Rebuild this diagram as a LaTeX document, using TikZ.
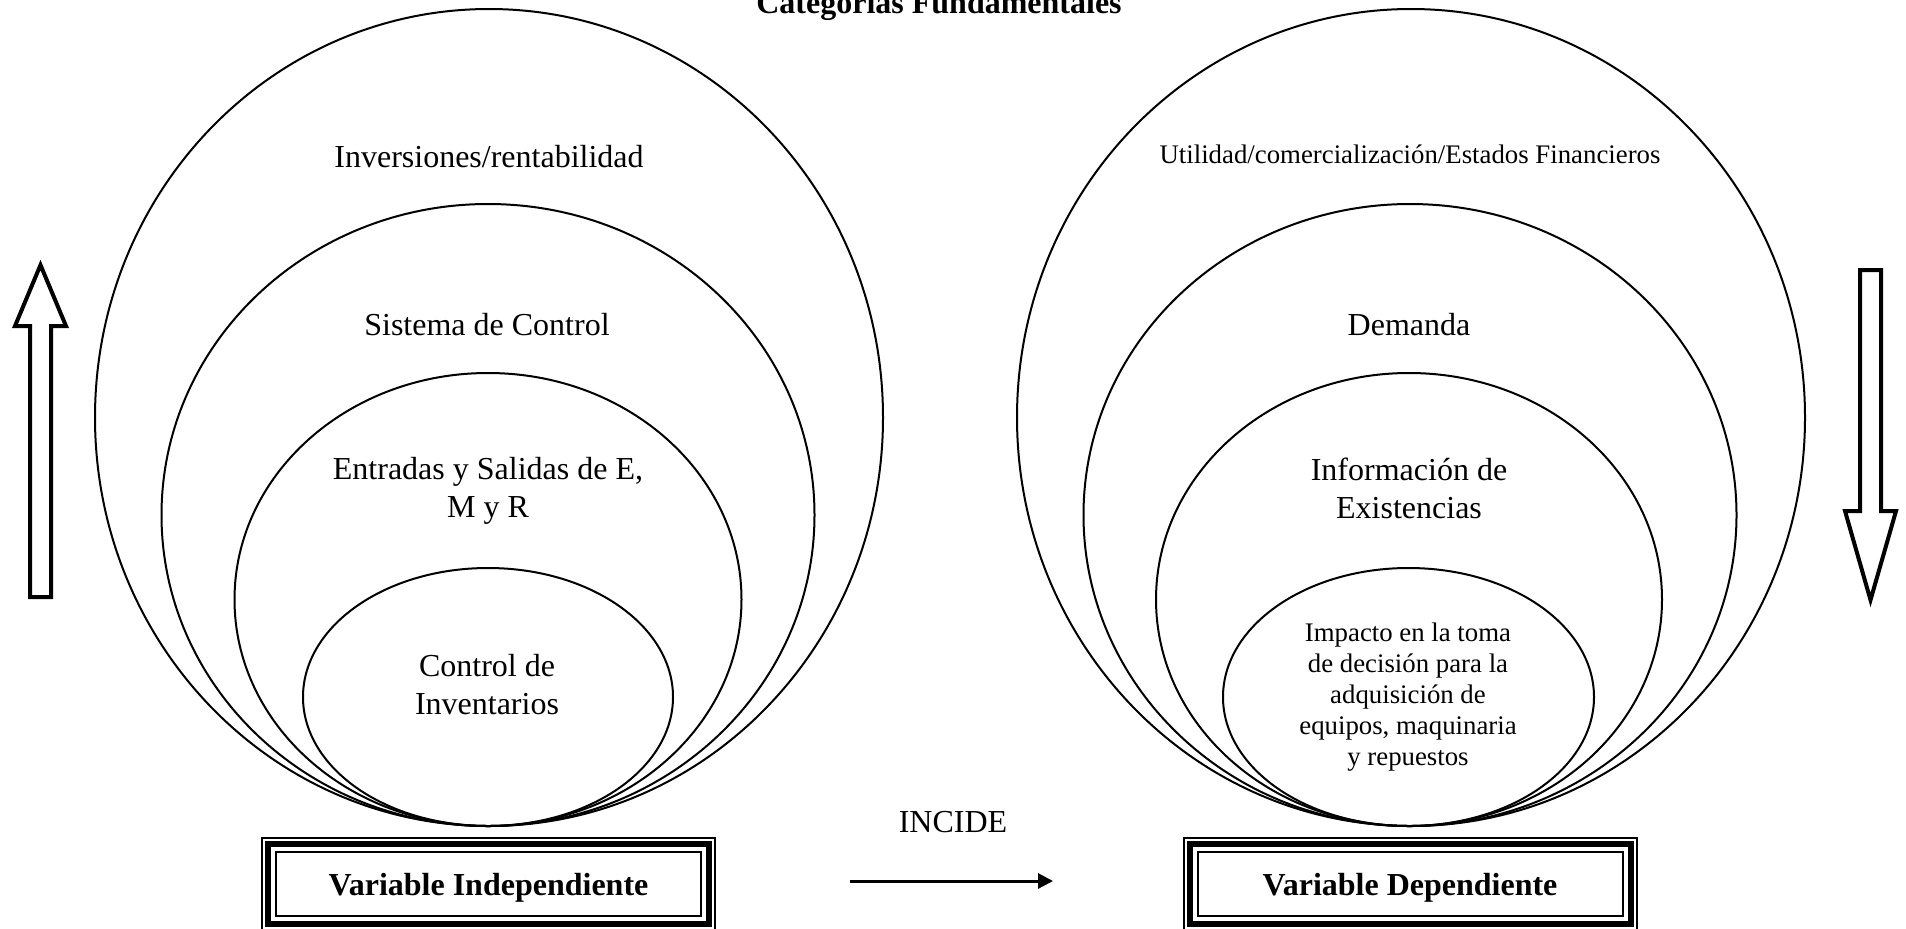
\documentclass[tikz,border=0pt]{standalone}
\usepackage{fontspec}
\setmainfont{Liberation Serif}
\usetikzlibrary{arrows.meta}
\tikzset{
  ring/.style={draw, line width=1pt},
  lbl/.style={font=\fontsize{16}{19}\selectfont, align=center},
  smalllbl/.style={font=\fontsize{13.4}{15.4}\selectfont, align=center},
  varbox/.style={draw, line width=1pt, minimum width=212.5pt, minimum height=32pt, inner sep=0pt, text height=12pt, text depth=1pt, font=\fontsize{16}{19}\selectfont\bfseries},
  bigarrow/.style={draw, line width=2pt, line join=miter, miter limit=10},
}
\begin{document}
\begin{tikzpicture}[x=0.5pt,y=-0.5pt]
\useasboundingbox (0,0) rectangle (1906,928);
\node[font=\fontsize{16}{19}\selectfont\bfseries, anchor=base] (title) at (939,13) {Categorías Fundamentales};
% independent side
\path[ring] (489,417.5) ellipse [x radius=394, y radius=408.5];
\path[ring] (488,515) ellipse [x radius=326.5, y radius=311];
\path[ring] (488,599.5) ellipse [x radius=253.5, y radius=226.5];
\path[ring] (488,697) ellipse [x radius=185, y radius=129];
\node[lbl] (inv) at (489,157) {Inversiones/rentabilidad};
\node[lbl] (sis) at (487,325) {Sistema de Control};
\node[lbl] (ent) at (488,491) {Entradas y Salidas de E,\\M y R};
\node[lbl] (ctl) at (487,685) {Control de\\Inventarios};
% dependent side
\path[ring] (1411,417.5) ellipse [x radius=394, y radius=408.5];
\path[ring] (1410,515) ellipse [x radius=326.5, y radius=311];
\path[ring] (1409,599.5) ellipse [x radius=253, y radius=226.5];
\path[ring] (1408.5,697) ellipse [x radius=185.5, y radius=129];
\node[smalllbl] (uti) at (1410,154) {Utilidad/comercialización/Estados Financieros};
\node[lbl] (dem) at (1409,325) {Demanda};
\node[lbl] (infx) at (1409,488) {Información de\\Existencias};
\node[smalllbl] (imp) at (1408,697) {Impacto en la toma\\de decisión para la\\adquisición de\\equipos, maquinaria\\y repuestos};
% variable boxes
\node[varbox] (vi) at (488.5,884) {Variable Independiente};
\path[draw, line width=3pt] ([shift={(-3.5pt,3.5pt)}]vi.north west) rectangle ([shift={(3.5pt,-3.5pt)}]vi.south east);
\path[draw, line width=1pt] ([shift={(-6.5pt,6.5pt)}]vi.north west) rectangle ([shift={(6.5pt,-6.5pt)}]vi.south east);
\node[varbox] (vd) at (1410,884) {Variable Dependiente};
\path[draw, line width=3pt] ([shift={(-3.5pt,3.5pt)}]vd.north west) rectangle ([shift={(3.5pt,-3.5pt)}]vd.south east);
\path[draw, line width=1pt] ([shift={(-6.5pt,6.5pt)}]vd.north west) rectangle ([shift={(6.5pt,-6.5pt)}]vd.south east);
% incide
\node[font=\fontsize{16}{19}\selectfont] (inc) at (953,822) {INCIDE};
\coordinate (incA) at (850,881);
\coordinate (incB) at (1053,881);
\path[draw, line width=1.5pt, -{Triangle[length=7.5pt, width=7.5pt]}] (incA) -- (incB);
% block arrows
\path[bigarrow] (40.5,265) -- (66,326) -- (51,326) -- (51,597) -- (30,597) -- (30,326) -- (15,326) -- cycle;
\path[bigarrow] (1870.5,600) -- (1896,511) -- (1881,511) -- (1881,270) -- (1860,270) -- (1860,511) -- (1845,511) -- cycle;
\end{tikzpicture}
\end{document}
